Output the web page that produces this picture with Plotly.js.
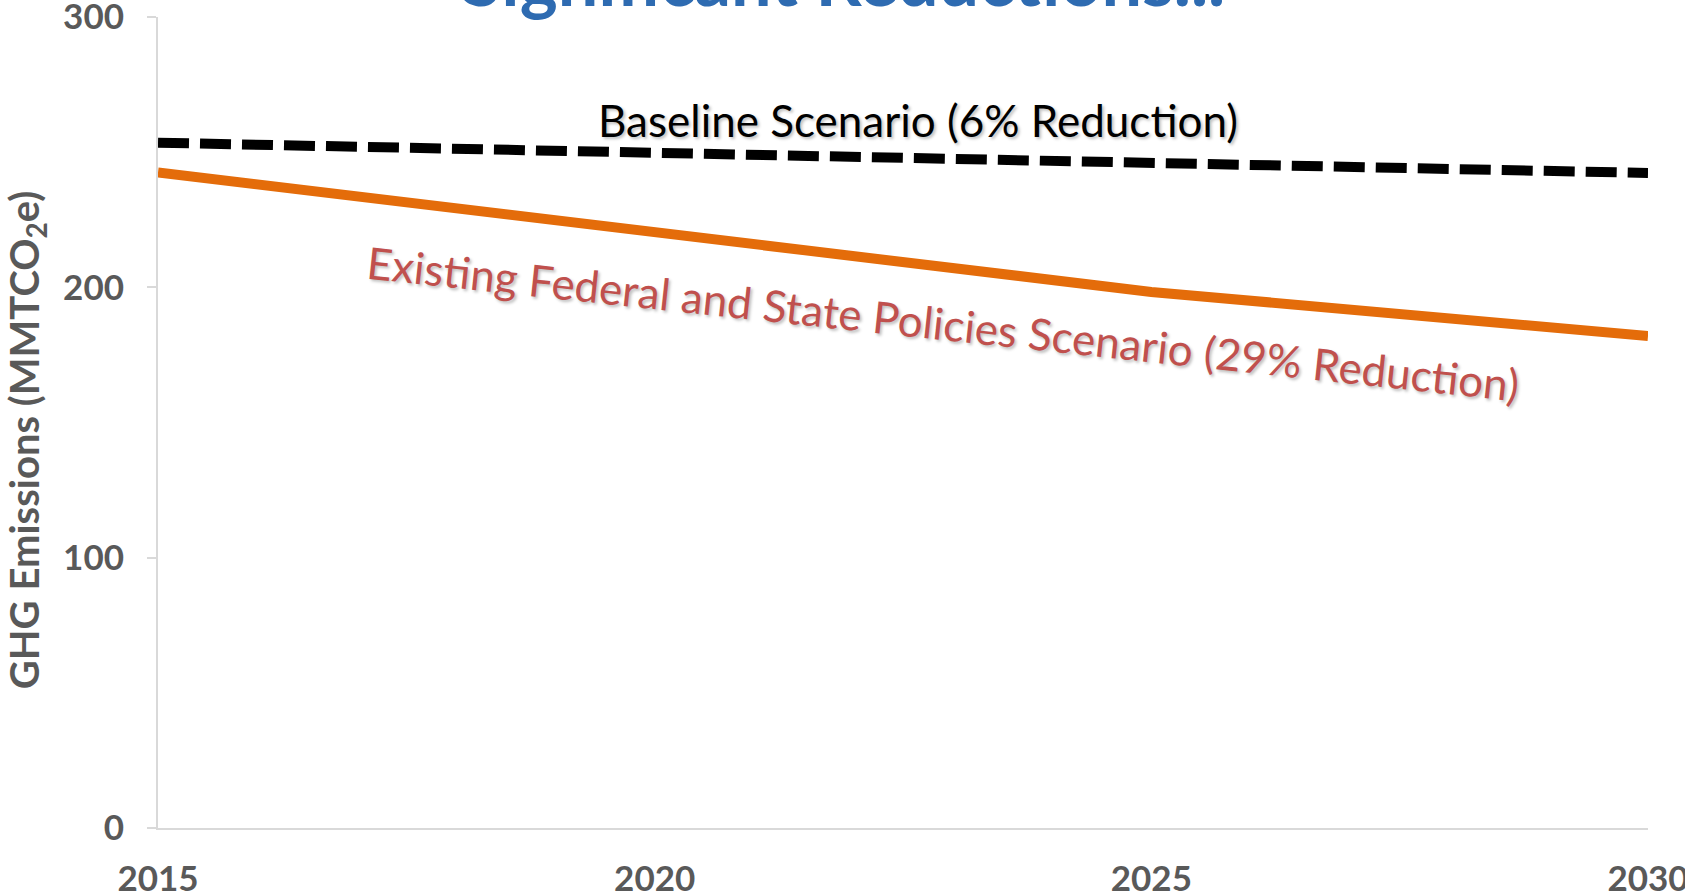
<!DOCTYPE html>
<html>
<head>
<meta charset="utf-8">
<script src="https://cdn.plot.ly/plotly-3.0.1.min.js"></script>
<style>
html,body{margin:0;padding:0;background:#ffffff;}
#chart{width:1685px;height:893px;}
</style>
</head>
<body>
<div id="chart"></div>
<script>
// ---- data ----
const years = [2015, 2020, 2025, 2030];
const baselineValues = [253.5, 249.5, 246.0, 242.3];
const policyValues = [242.5, 220.5, 198.3, 182.0];
const yTickVals = [0, 100, 200, 300];
const xTickVals = [2015, 2020, 2025, 2030];
const xMajorTickVals = [2015, 2025];
const chartTitle = "Significant Reductions...";
const yTitle = "GHG Emissions (MMTCO<sub>2</sub>e)";
const baselineLabel = "Baseline Scenario (6% Reduction)";
const policyLabel = "Existing Federal and State Policies Scenario (29% Reduction)";

const FONT = "Lato, 'Open Sans', sans-serif";
const GREY = "#595959";
const AXIS = "#D9D9D9";

const traces = [
  {
    x: years, y: baselineValues, type: "scatter", mode: "lines",
    name: "Baseline Scenario",
    line: {color: "#000000", width: 10, dash: "31px,11px"},
    hoverinfo: "x+y"
  },
  {
    x: years, y: policyValues, type: "scatter", mode: "lines",
    name: "Existing Federal and State Policies Scenario",
    line: {color: "#E46C0A", width: 10},
    hoverinfo: "x+y"
  }
];

const layout = {
  width: 1685, height: 893,
  paper_bgcolor: "#ffffff", plot_bgcolor: "#ffffff",
  showlegend: false,
  margin: {l: 158, r: 37, t: 17, b: 64.5, pad: 0},
  font: {family: FONT, color: GREY},
  xaxis: {
    range: [2015, 2030], tickmode: "array", tickvals: xTickVals,
    ticktext: xTickVals.map(String),
    showgrid: false, zeroline: false,
    showline: true, linecolor: AXIS, linewidth: 2,
    ticks: "", ticklabelstandoff: 19, ticklabeloverflow: "allow",
    tickfont: {family: FONT, size: 35, color: GREY, weight: 700},
    automargin: false, fixedrange: true
  },
  xaxis2: {
    range: [2015, 2030], overlaying: "x", anchor: "y", side: "bottom",
    tickmode: "array", tickvals: xMajorTickVals,
    showticklabels: false, showgrid: false, zeroline: false, showline: false,
    ticks: "outside", ticklen: 11, tickwidth: 2, tickcolor: AXIS,
    automargin: false, fixedrange: true
  },
  yaxis: {
    range: [0, 300], tickmode: "array", tickvals: yTickVals,
    showgrid: false, zeroline: false,
    showline: true, linecolor: AXIS, linewidth: 2,
    ticks: "outside", ticklen: 9, tickwidth: 2, tickcolor: AXIS,
    ticklabelstandoff: 16, ticklabeloverflow: "allow",
    tickfont: {family: FONT, size: 35, color: GREY, weight: 700},
    automargin: false, fixedrange: true
  },
  annotations: [
    {
      text: chartTitle, xref: "paper", yref: "paper",
      x: (843.5 - 158) / 1490, y: 1 + (17 + 22.5) / 811.5,
      xanchor: "center", yanchor: "middle", showarrow: false,
      font: {family: FONT, size: 72, color: "#2E6BB1", weight: 700}
    },
    {
      text: yTitle, xref: "paper", yref: "paper",
      x: (26 - 158) / 1490, y: 1 - (440.5 - 17) / 811.5,
      xanchor: "center", yanchor: "middle", showarrow: false,
      textangle: -90,
      font: {family: FONT, size: 40, color: GREY, weight: 700}
    },
    {
      text: baselineLabel, xref: "x", yref: "y",
      x: 2022.65, y: 262, xanchor: "center", yanchor: "middle", showarrow: false,
      font: {family: FONT, size: 44, color: "#000000",
             shadow: "2px 2px 3px rgba(0,0,0,0.25)"}
    },
    {
      text: policyLabel, xref: "x", yref: "y",
      x: 2022.9, y: 186.7, xanchor: "center", yanchor: "middle", showarrow: false,
      textangle: 6.1,
      font: {family: FONT, size: 44, color: "#C0504D",
             shadow: "2px 2px 3px rgba(0,0,0,0.25)"}
    }
  ]
};

Plotly.newPlot("chart", traces, layout, {displayModeBar: false, staticPlot: true});
</script>
</body>
</html>
